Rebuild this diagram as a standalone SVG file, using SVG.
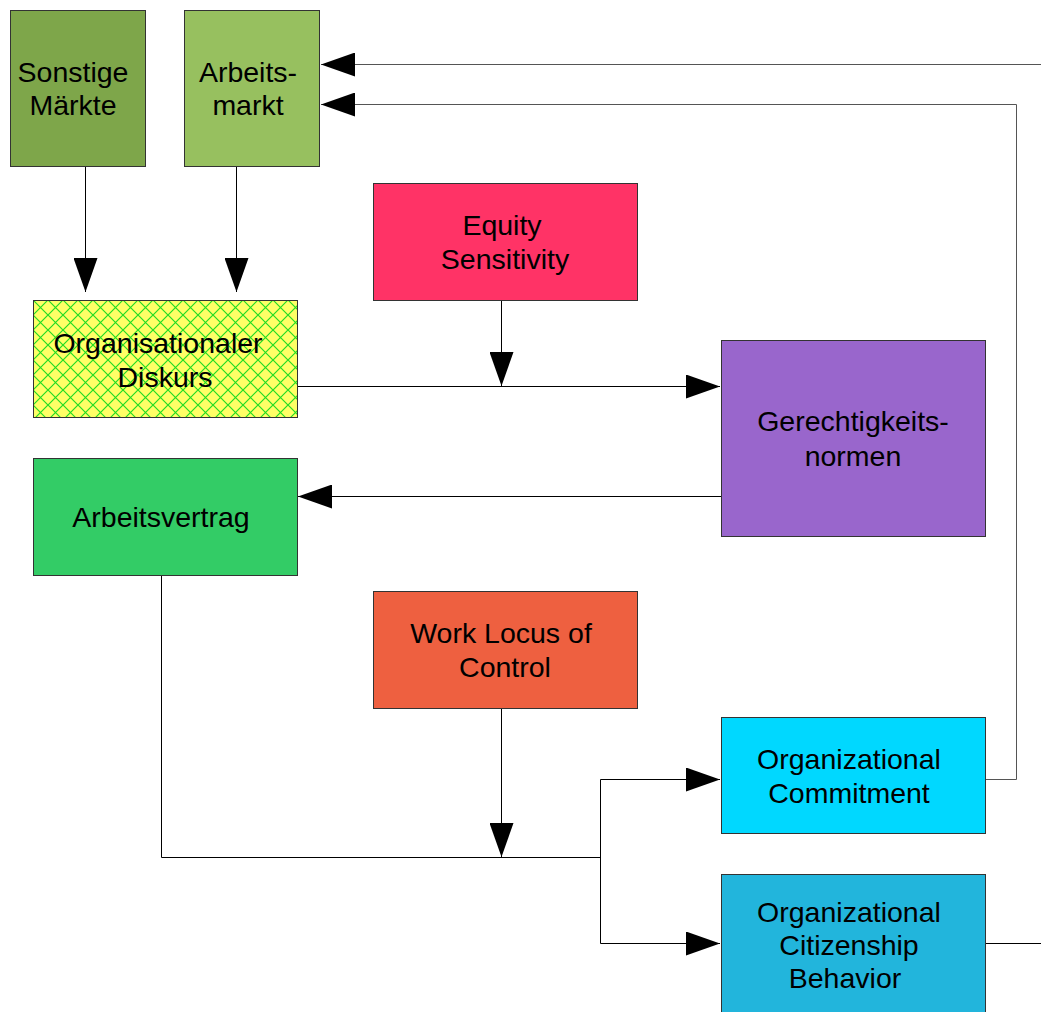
<svg xmlns="http://www.w3.org/2000/svg" width="1041" height="1012" viewBox="0 0 1041 1012">
<style>
.box{stroke:#333;stroke-width:1}
.t{font-family:"Liberation Sans",Arial,sans-serif;font-size:28.5px;fill:#000;text-anchor:middle}
.c{fill:none;stroke:#000;stroke-width:1}
</style>
<defs>
<marker id="ah" viewBox="0 0 34 24" refX="34" refY="12" markerWidth="34" markerHeight="24" markerUnits="userSpaceOnUse" orient="auto">
<path d="M0,0 L34,12 L0,24 Z" fill="#000"/>
</marker>
<pattern id="hatch" width="15" height="15" patternUnits="userSpaceOnUse" x="33" y="300">
<rect width="15" height="15" fill="#ffff66"/>
<path d="M0,0 L15,15 M15,0 L0,15 M-2,13 L2,17 M13,-2 L17,2 M13,17 L17,13 M-2,2 L2,-2" stroke="#22dd22" stroke-width="1.2"/>
</pattern>
</defs>
<rect width="1041" height="1012" fill="#fff"/>
<g id="connectors">
<path class="c" d="M85.5,166 V292" marker-end="url(#ah)"/>
<path class="c" d="M236.5,166 V292" marker-end="url(#ah)"/>
<path class="c" d="M501.5,300 V386" marker-end="url(#ah)"/>
<path class="c" d="M297,386.5 H720" marker-end="url(#ah)"/>
<path class="c" d="M721,496.5 H298" marker-end="url(#ah)"/>
<path class="c" d="M161.5,575 V857.5 H600.5"/>
<path class="c" d="M501.5,708 V857" marker-end="url(#ah)"/>
<path class="c" d="M600.5,857 V779.5 H720" marker-end="url(#ah)"/>
<path class="c" d="M600.5,857 V943.5 H720" marker-end="url(#ah)"/>
<path class="c" d="M985,779.5 H1016.5 V104.5 H321" marker-end="url(#ah)" style="stroke:#555"/>
<path class="c" d="M1041,64.5 H321" marker-end="url(#ah)" style="stroke:#555"/>
<path class="c" d="M985,943.5 H1041"/>
</g>
<g id="sonstige">
<rect class="box" x="10.5" y="10.5" width="135" height="156" fill="#7ea64a"/>
<text class="t" x="73" y="82">Sonstige</text>
<text class="t" x="73" y="115">Märkte</text>
</g>
<g id="arbeitsmarkt">
<rect class="box" x="184.5" y="10.5" width="135" height="156" fill="#97c05f"/>
<text class="t" x="248" y="82">Arbeits-</text>
<text class="t" x="248" y="115">markt</text>
</g>
<g id="equity">
<rect class="box" x="373.5" y="183.5" width="264" height="117" fill="#ff3366"/>
<text class="t" x="502" y="235">Equity</text>
<text class="t" x="505" y="269">Sensitivity</text>
</g>
<g id="diskurs">
<rect class="box" x="33.5" y="300.5" width="264" height="117" fill="url(#hatch)"/>
<text class="t" x="158" y="353">Organisationaler</text>
<text class="t" x="165" y="387">Diskurs</text>
</g>
<g id="normen">
<rect class="box" x="721.5" y="340.5" width="264" height="196" fill="#9966cc"/>
<text class="t" x="853" y="431">Gerechtigkeits-</text>
<text class="t" x="853" y="466">normen</text>
</g>
<g id="vertrag">
<rect class="box" x="33.5" y="458.5" width="264" height="117" fill="#33cc66"/>
<text class="t" x="161" y="527">Arbeitsvertrag</text>
</g>
<g id="locus">
<rect class="box" x="373.5" y="591.5" width="264" height="117" fill="#ee6040"/>
<text class="t" x="501" y="643">Work Locus of</text>
<text class="t" x="505" y="677">Control</text>
</g>
<g id="commitment">
<rect class="box" x="721.5" y="717.5" width="264" height="116" fill="#00d8ff"/>
<text class="t" x="849" y="769">Organizational</text>
<text class="t" x="849" y="803">Commitment</text>
</g>
<g id="ocb">
<rect class="box" x="721.5" y="874.5" width="264" height="150" fill="#22b5dc"/>
<text class="t" x="849" y="922">Organizational</text>
<text class="t" x="849" y="955">Citizenship</text>
<text class="t" x="845" y="988">Behavior</text>
</g>
</svg>
